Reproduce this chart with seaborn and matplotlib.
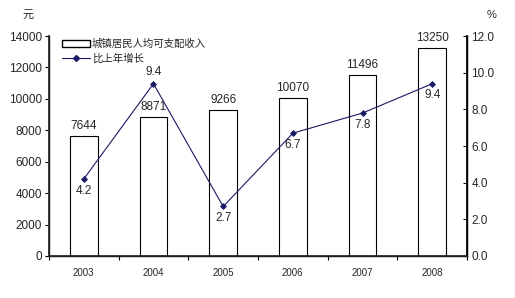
import matplotlib
matplotlib.use("Agg")
import matplotlib.pyplot as plt
import seaborn as sns
import numpy as np
from matplotlib.patches import Patch
from matplotlib.lines import Line2D
from matplotlib.ticker import MultipleLocator, FixedLocator

years = ["2003", "2004", "2005", "2006", "2007", "2008"]
income = [7644, 8871, 9266, 10070, 11496, 13250]
growth = [4.2, 9.4, 2.7, 6.7, 7.8, 9.4]
income_label = "城镇居民人均可支配收入"
growth_label = "比上年增长"

sns.set_theme(style="white")
plt.rcParams["font.family"] = ["Liberation Sans", "Noto Sans CJK SC", "DejaVu Sans"]

fig = plt.figure(figsize=(5.15, 2.98), dpi=100)
ax = fig.add_axes([0.095, 0.141, 0.812, 0.738])
sns.barplot(x=years, y=income, color="white", edgecolor="black", linewidth=0.8,
            width=0.4, ax=ax, saturation=1)
ax.set_ylim(0, 14000)
ax.set_xlim(-0.5, len(years) - 0.5)
ax.yaxis.set_major_locator(MultipleLocator(2000))
ax.set_xlabel("")
ax.set_ylabel("")
ax.spines["top"].set_visible(False)
for s in ["left", "bottom", "right"]:
    ax.spines[s].set_color("black")
    ax.spines[s].set_linewidth(1.0)
ax.tick_params(axis="y", which="major", left=True, length=3, width=0.8, labelsize=8.5, pad=2, color="black")
ax.tick_params(axis="x", which="major", length=0, labelsize=7, pad=9)
ax.xaxis.set_minor_locator(FixedLocator(np.arange(len(years) + 1) - 0.5))
ax.tick_params(axis="x", which="minor", bottom=True, length=3, width=0.8, color="black")

for i, v in enumerate(income):
    ax.text(i, v + 250, f"{v}", ha="center", va="bottom", fontsize=8.5)

ax2 = ax.twinx()
sns.pointplot(x=years, y=growth, ax=ax2, color="#1a1a66", markers="D",
              markersize=3, linewidth=0.8, native_scale=False)
ax2.set_ylim(0, 12)
ax2.set_xlim(-0.5, len(years) - 0.5)
ax2.yaxis.set_major_locator(MultipleLocator(2))
ax2.yaxis.set_major_formatter(matplotlib.ticker.FormatStrFormatter("%.1f"))
ax2.set_ylabel("")
ax2.spines["top"].set_visible(False)
ax2.spines["right"].set_color("black")
ax2.tick_params(axis="y", right=True, direction="in", length=3, width=0.8, labelsize=8.5, pad=3, color="black")

offsets = [-1, 1, -1, -1, -1, -1]
for i, (v, o) in enumerate(zip(growth, offsets)):
    ax2.text(i, v + o * 0.3, f"{v}", ha="center", va="top" if o < 0 else "bottom", fontsize=8.5)

handles = [Patch(facecolor="white", edgecolor="black", linewidth=1.0),
           Line2D([], [], color="#1a1a66", marker="D", markersize=3, linewidth=0.8)]
ax2.legend(handles, [income_label, growth_label], loc="upper left",
           bbox_to_anchor=(0.01, 1.03), frameon=False,
           handlelength=2.6, handleheight=0.7, handletextpad=0.2, labelspacing=0.45,
           prop={"family": ["Noto Sans CJK SC"], "size": 7.5})

fig.text(0.055, 0.95, "元", fontsize=8, family=["Noto Sans CJK SC"], ha="center", va="center")
fig.text(0.955, 0.95, "%", fontsize=8, ha="center", va="center")

fig.savefig("out.png", dpi=100)
